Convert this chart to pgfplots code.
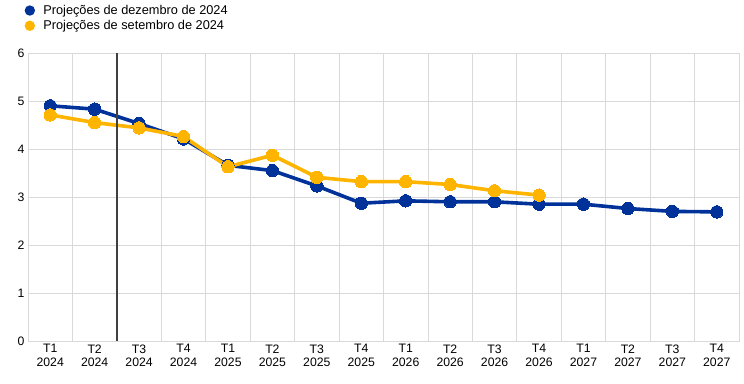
\documentclass[border=0pt]{standalone}
\usepackage{fontspec}
\setmainfont{Liberation Sans}
\usepackage{pgfplots}
\pgfplotsset{compat=1.18}
\definecolor{ecbblue}{HTML}{003299}
\definecolor{ecbyellow}{HTML}{FFB400}
\definecolor{gridgray}{HTML}{D9D9D9}
\begin{document}
\begin{tikzpicture}
\path[use as bounding box] (0,0) rectangle (744bp,384bp);
\begin{axis}[
  at={(28bp,43bp)}, anchor=south west,
  scale only axis, width=711bp, height=288bp,
  xmin=-0.5, xmax=15.5, ymin=0, ymax=6,
  xtick={0,...,15},
  xticklabels={{T1\\2024},{T2\\2024},{T3\\2024},{T4\\2024},{T1\\2025},{T2\\2025},{T3\\2025},{T4\\2025},{T1\\2026},{T2\\2026},{T3\\2026},{T4\\2026},{T1\\2027},{T2\\2027},{T3\\2027},{T4\\2027}},
  x tick label style={align=center, font=\fontsize{12.3}{13.8}\selectfont},
  y tick label style={font=\fontsize{12.3}{13.8}\selectfont},
  ytick={0,...,6},
  minor xtick={-0.5,0.5,...,15.5},
  xminorgrids, ymajorgrids,
  grid style={draw=gridgray, line width=0.8bp},
  minor grid style={draw=gridgray, line width=0.8bp},
  major tick length=0pt, minor tick length=0pt,
  axis line style={draw=gridgray, line width=0.8bp},
  /pgf/number format/assume math mode=true,
  clip=false,
  legend style={at={(-0.005,1.172)}, anchor=north west, draw=none, fill=none,
    font=\fontsize{12.8}{14.5}\selectfont, inner sep=0pt, row sep=1.5bp,
    nodes={inner sep=1.5bp}},
  legend cell align=left,
  legend image code/.code={\path[draw=none] (0bp,0bp) -- (17bp,0bp); \fill[#1, draw=none, line width=0pt] (5bp,0bp) circle (5.2bp);},
]
\addplot[color=ecbblue, line width=3.6bp, mark=*, mark size=6.2bp, mark options={fill=ecbblue, draw=ecbblue, line width=0pt}]
coordinates {(0,4.90)(1,4.83)(2,4.53)(3,4.21)(4,3.66)(5,3.55)(6,3.23)(7,2.87)(8,2.92)(9,2.90)(10,2.90)(11,2.85)(12,2.85)(13,2.76)(14,2.70)(15,2.69)};
\addlegendentry{Projeções de dezembro de 2024}
\addplot[color=ecbyellow, line width=3.6bp, mark=*, mark size=6.2bp, mark options={fill=ecbyellow, draw=ecbyellow, line width=0pt}]
coordinates {(0,4.71)(1,4.55)(2,4.44)(3,4.26)(4,3.63)(5,3.87)(6,3.41)(7,3.32)(8,3.32)(9,3.26)(10,3.13)(11,3.04)};
\addlegendentry{Projeções de setembro de 2024}
\addplot[color=black!75, line width=1.5bp, forget plot] coordinates {(1.5,0)(1.5,6)};
\end{axis}
\end{tikzpicture}
\end{document}
